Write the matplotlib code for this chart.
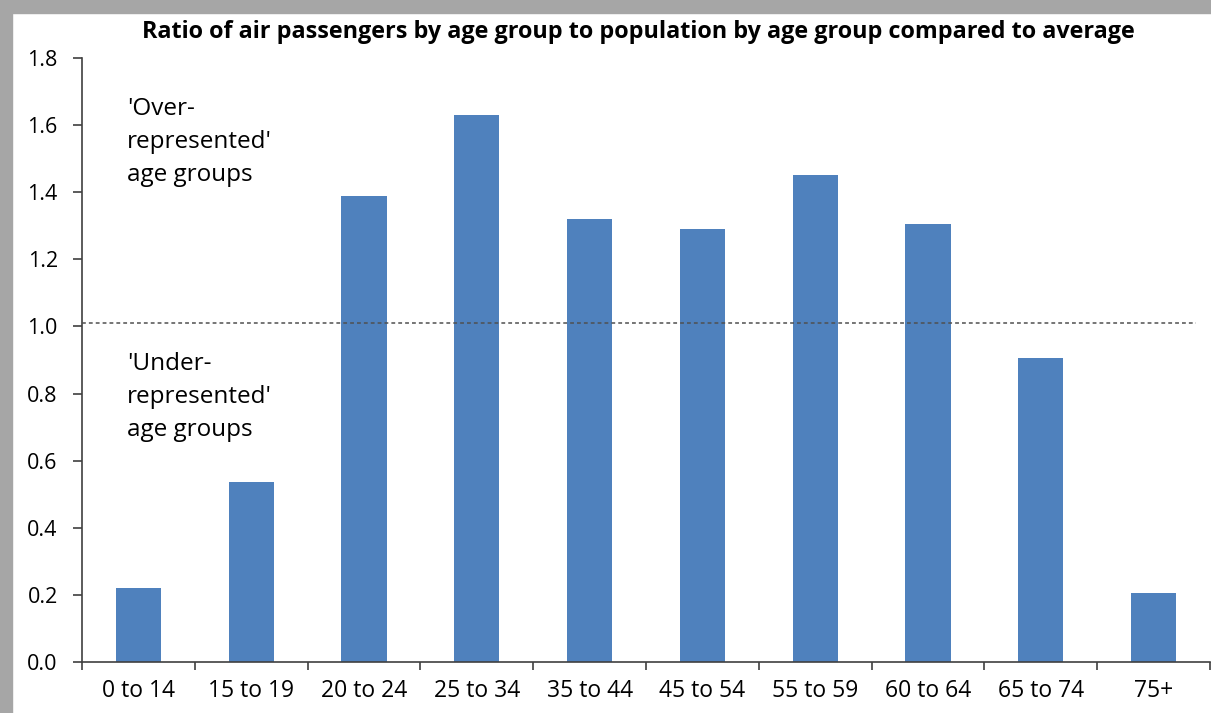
import matplotlib.pyplot as plt
import numpy as np
from matplotlib.patches import Rectangle

# data
age_groups = ['0 to 14', '15 to 19', '20 to 24', '25 to 34', '35 to 44',
              '45 to 54', '55 to 59', '60 to 64', '65 to 74', '75+']
ratios = [0.22, 0.535, 1.39, 1.63, 1.32, 1.29, 1.45, 1.305, 0.905, 0.205]
average_line = 1.01
y_ticks = [0.0, 0.2, 0.4, 0.6, 0.8, 1.0, 1.2, 1.4, 1.6, 1.8]

plt.rcParams['font.family'] = ['Open Sans', 'DejaVu Sans']

fig = plt.figure(figsize=(12.11, 7.13), dpi=100)
fig.patch.set_facecolor('white')

# grey frame shadow on left / top
fig.add_artist(Rectangle((0, 0), 12 / 1211, 1, transform=fig.transFigure,
                         color='#a6a6a6', zorder=0))
fig.add_artist(Rectangle((0, 1 - 13 / 713), 1, 13 / 713, transform=fig.transFigure,
                         color='#a6a6a6', zorder=0))

ax = fig.add_axes([82 / 1211, 1 - 662 / 713, (1210 - 82) / 1211, (662 - 58) / 713])

x = np.arange(len(age_groups))
ax.bar(x, ratios, width=0.4, color='#4F81BD', zorder=2)

ax.set_xlim(-0.5, len(age_groups) - 0.5)
ax.set_ylim(0, 1.8)
ax.set_yticks(y_ticks)
ax.set_yticklabels([f'{v:.1f}' for v in y_ticks], fontsize=15.5)

# category labels between boundary ticks
ax.set_xticks(np.arange(len(age_groups) + 1) - 0.5)
ax.set_xticklabels([])
ax.set_xticks(x, minor=True)
ax.set_xticklabels(age_groups, minor=True, fontsize=16.5)
ax.tick_params(axis='x', which='minor', length=0, pad=12)
ax.tick_params(axis='x', which='major', length=5.5, width=1.2, direction='out', color='#404040')
ax.tick_params(axis='y', length=6.5, width=1.2, direction='out', color='#404040', pad=11)

for side in ['top', 'right']:
    ax.spines[side].set_visible(False)
for side in ['left', 'bottom']:
    ax.spines[side].set_color('#404040')
    ax.spines[side].set_linewidth(1.2)

ax.plot([-0.5, 9.38], [average_line, average_line], color='#505050',
        linestyle=(0, (2.5, 2)), linewidth=1.1, zorder=3, clip_on=False)

ax.text(-0.1, 1.685, "'Over-\nrepresented'\nage groups", fontsize=17.5,
        va='top', ha='left', linespacing=1.5)
ax.text(-0.1, 0.925, "'Under-\nrepresented'\nage groups", fontsize=17.5,
        va='top', ha='left', linespacing=1.5)

fig.text(0.527, 1 - 32 / 713, 'Ratio of air passengers by age group to population by age group compared to average',
         ha='center', va='center', fontsize=16.8, fontweight='bold')

fig.savefig('out.png', dpi=100)
